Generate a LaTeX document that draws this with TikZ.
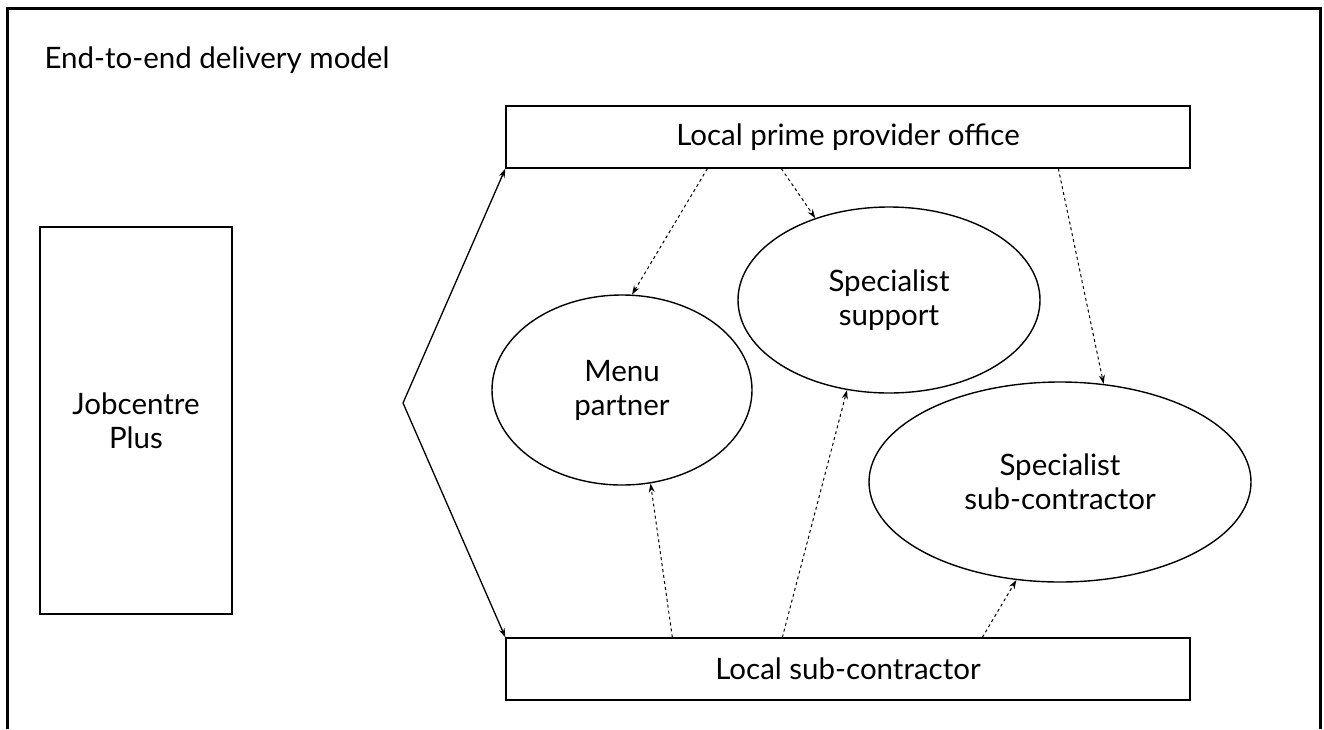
\documentclass[tikz,border=0pt]{standalone}
\usepackage{fontspec}
\setmainfont{Lato}
\usetikzlibrary{arrows.meta,shapes.geometric,calc}
\begin{document}
\begin{tikzpicture}[x=1pt,y=-1pt,
  txt/.style={font=\fontsize{29.5}{34}\selectfont},
  box/.style={draw,line width=1.3pt,inner sep=0pt,align=center,txt},
  oval/.style={draw,ellipse,line width=1.4pt,inner sep=0pt,align=center,txt},
  tip/.style={-{Stealth[length=9pt,width=6pt]}},
  link/.style={dash pattern=on 3pt off 3pt,line width=1pt,tip},
  flow/.style={line width=1.3pt,{Stealth[length=9pt,width=6pt]}-{Stealth[length=9pt,width=6pt]}}]
\useasboundingbox (0,0) rectangle (1324,729);
\draw[line width=3pt] (7,729) -- (7,8) -- (1320.5,8) -- (1320.5,729);
\node[anchor=base west,font=\fontsize{29.5}{34}\selectfont] (title) at (41,68) {End-to-end delivery model};
\node[box,minimum width=684pt,minimum height=62pt] (prime) at (848,137) {Local prime provider office};
\node[box,minimum width=684pt,minimum height=62pt] (sub) at (848,669) {Local sub-contractor};
\node[box,minimum width=192pt,minimum height=387pt] (jcp) at (136,420.5) {Jobcentre\\Plus};
\node[oval,minimum width=260pt,minimum height=190pt] (menu) at (622,390) {Menu\\partner};
\node[oval,minimum width=302pt,minimum height=186pt] (spec) at (889,300) {Specialist\\support};
\node[oval,minimum width=382pt,minimum height=200pt] (ssc) at (1060,482) {Specialist\\sub-contractor};
\coordinate (apex) at (403,403);
\draw[flow] (prime.south west) -- (apex) -- (sub.north west);
\coordinate (t1) at ($(prime.south west)+(202,0)$);
\coordinate (t2) at ($(prime.south west)+(276,0)$);
\coordinate (t3) at ($(prime.south west)+(553,0)$);
\coordinate (b1) at ($(sub.north west)+(167,0)$);
\coordinate (b2) at ($(sub.north west)+(277,0)$);
\coordinate (b3) at ($(sub.north west)+(477,0)$);
\draw[link] (t1) -- (menu.84.6);
\draw[link] (t2) -- (spec.132.8);
\draw[link] (t3) -- (ssc.66.8);
\draw[link] (b1) -- (menu.-73);
\draw[link] (b2) -- (spec.245.3);
\draw[link] (b3) -- (ssc.246.8);
\end{tikzpicture}
\end{document}
